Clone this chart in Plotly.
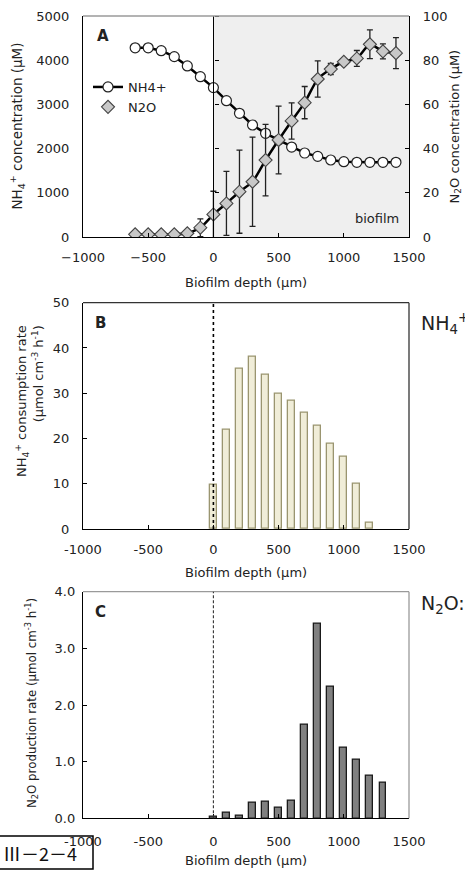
import plotly.graph_objects as go

# ---------------- data ----------------
depth_A = [-600, -500, -400, -300, -200, -100, 0, 100, 200, 300, 400, 500, 600, 700, 800, 900, 1000, 1100, 1200, 1300, 1400]
nh4_conc = [4280, 4280, 4215, 4080, 3870, 3627, 3380, 3084, 2798, 2534, 2346, 2195, 2035, 1900, 1825, 1742, 1704, 1690, 1690, 1690, 1690]
n2o_conc = [1.2, 1.2, 1.2, 1.2, 1.7, 4.2, 10.2, 15.2, 20.5, 25.0, 34.8, 43.9, 52.5, 60.8, 71.5, 76.0, 79.3, 80.8, 87.2, 84.0, 83.2]
n2o_err = [0, 0, 0, 0, 0.5, 4.0, 10.5, 14.5, 18.8, 20.2, 16.2, 15.3, 8.2, 7.3, 8.2, 2.5, 0.8, 3.6, 6.5, 3.4, 7.0]

depth_B = [0, 100, 200, 300, 400, 500, 600, 700, 800, 900, 1000, 1100, 1200]
nh4_rate = [9.7, 21.9, 35.4, 38.1, 34.1, 30.0, 28.4, 25.7, 22.9, 18.8, 15.9, 9.9, 1.5]

depth_C = [0, 100, 200, 300, 400, 500, 600, 700, 800, 900, 1000, 1100, 1200, 1300]
n2o_rate = [0.02, 0.10, 0.04, 0.27, 0.29, 0.18, 0.31, 1.65, 3.44, 2.32, 1.25, 1.03, 0.76, 0.63]

x_ticks = [-1000, -500, 0, 500, 1000, 1500]
x_ticktext_A = ["\u22121000", "\u2212500", "0", "500", "1000", "1500"]
x_ticktext_BC = ["-1000", "-500", "0", "500", "1000", "1500"]
yA_ticks = [0, 1000, 2000, 3000, 4000, 5000]
yA2_ticks = [0, 20, 40, 60, 80, 100]
yB_ticks = [0, 10, 20, 30, 40, 50]
yC_ticks = [0, 1, 2, 3, 4]
yC_ticktext = ["0.0", "1.0", "2.0", "3.0", "4.0"]

# ---------------- layout helpers ----------------
W, H = 465, 870
def px(x):
    return x / W
def py(y):
    return 1 - y / H

XD = [px(83), px(409)]
YA = [py(237), py(16)]
YB = [py(529), py(302.7)]
YC = [py(818.3), py(591.7)]
FONT = "DejaVu Sans, Verdana, sans-serif"
TXT = "#222222"
FS = 13

fig = go.Figure()

fig.add_trace(go.Scatter(x=depth_A, y=n2o_conc, xaxis="x", yaxis="y2", mode="lines",
                         line=dict(color="black", width=2.5, shape="spline", smoothing=0.6),
                         showlegend=False, hoverinfo="skip"))
fig.add_trace(go.Scatter(x=depth_A, y=nh4_conc, xaxis="x", yaxis="y", mode="lines+markers",
                         name="NH4+", line=dict(color="black", width=2.5),
                         marker=dict(symbol="circle", size=10, color="white",
                                     line=dict(color="#222222", width=1.2))))
fig.add_trace(go.Scatter(x=depth_A, y=n2o_conc, xaxis="x", yaxis="y2", mode="markers",
                         name="N2O",
                         error_y=dict(type="data", array=n2o_err, color="#222222", thickness=1.3, width=3),
                         marker=dict(symbol="diamond", size=10, color="#c8c8c8",
                                     line=dict(color="#444444", width=1.1))))
# empty trace so that the axis drawn at depth 0 (with its ticks) is rendered
fig.add_trace(go.Scatter(x=[], y=[], xaxis="x", yaxis="y3", showlegend=False, hoverinfo="skip"))

fig.add_trace(go.Bar(x=depth_B, y=nh4_rate, xaxis="x2", yaxis="y4", width=55,
                     marker=dict(color="#f0edd8", line=dict(color="#9a9570", width=1.3)),
                     showlegend=False))
fig.add_trace(go.Bar(x=depth_C, y=n2o_rate, xaxis="x3", yaxis="y5", width=52,
                     marker=dict(color="#808080", line=dict(color="#1a1a1a", width=1.3)),
                     showlegend=False))

tickfont = dict(family=FONT, size=FS, color=TXT)
common = dict(showgrid=False, zeroline=False, automargin=False, showline=True, linecolor="black",
              linewidth=1.3, tickcolor="black", tickfont=tickfont)

def xaxis(anchor, ticktext, standoff):
    return dict(domain=XD, range=[-1000, 1500], anchor=anchor, tickvals=x_ticks, ticktext=ticktext,
                ticks="inside", ticklen=4, ticklabelstandoff=standoff, **common)

fig.update_layout(
    template="none",
    width=W, height=H, margin=dict(l=0, r=0, t=0, b=0, pad=0, autoexpand=False),
    paper_bgcolor="white", plot_bgcolor="white",
    font=dict(family=FONT, size=FS, color=TXT),
    bargap=0,
    xaxis=xaxis("y", x_ticktext_A, 8),
    yaxis=dict(domain=YA, range=[0, 5000], anchor="x", tickvals=yA_ticks, ticks="",
               ticklabelstandoff=10, **common),
    yaxis2=dict(range=[0, 100], overlaying="y", side="right", anchor="x", tickvals=yA2_ticks,
                ticks="inside", ticklen=4, ticklabelstandoff=10, **common),
    yaxis3=dict(range=[0, 5000], overlaying="y", anchor="free",
                position=XD[0] + 0.4 * (XD[1] - XD[0]), tickvals=yA_ticks,
                ticks="outside", side="right", ticklen=4, showticklabels=False, **common),
    xaxis2=xaxis("y4", x_ticktext_BC, 8),
    yaxis4=dict(domain=YB, range=[0, 50], anchor="x2", tickvals=yB_ticks, ticks="inside", ticklen=4,
                ticklabelstandoff=10, **common),
    xaxis3=xaxis("y5", x_ticktext_BC, 11),
    yaxis5=dict(domain=YC, range=[0, 4], anchor="x3", tickvals=yC_ticks, ticktext=yC_ticktext,
                ticks="inside", ticklen=4, ticklabelstandoff=4, **common),
    legend=dict(x=px(88), y=py(72), xanchor="left", yanchor="top", bgcolor="rgba(0,0,0,0)",
                font=dict(family=FONT, size=FS, color=TXT), itemwidth=30, tracegroupgap=2),
)

shapes = []
shapes.append(dict(type="rect", xref="x", yref="y domain", x0=0, x1=1500, y0=0, y1=1,
                   fillcolor="#efefef", line=dict(width=0), layer="below"))
for xr, yr, col in [("x domain", "y domain", "#9a9a9a"), ("x2 domain", "y4 domain", "#333333"),
                    ("x3 domain", "y5 domain", "#9a9a9a")]:
    shapes.append(dict(type="line", xref=xr, yref=yr, x0=0, x1=1, y0=1, y1=1,
                       line=dict(color=col, width=1.3)))
shapes.append(dict(type="line", xref="x2 domain", yref="y4 domain", x0=1, x1=1, y0=0, y1=1,
                   line=dict(color="#333333", width=1.3)))
shapes.append(dict(type="line", xref="x3 domain", yref="y5 domain", x0=1, x1=1, y0=0, y1=1,
                   line=dict(color="#9a9a9a", width=1.3)))
shapes.append(dict(type="line", xref="x2", yref="y4 domain", x0=0, x1=0, y0=0, y1=1,
                   line=dict(color="black", width=1.6, dash="dot")))
shapes.append(dict(type="line", xref="x3", yref="y5 domain", x0=0, x1=0, y0=0, y1=1,
                   line=dict(color="#333333", width=1.1, dash="3px,2px")))
shapes.append(dict(type="rect", xref="paper", yref="paper", x0=px(-2), x1=px(93), y0=py(869),
                   y1=py(836), line=dict(color="black", width=1.5), fillcolor="rgba(0,0,0,0)"))
fig.update_layout(shapes=shapes)

ann = []
def a(text, x, y, size=FS, angle=0, xanchor="center", yanchor="middle", align="center", family=FONT,
      color=TXT, bold=False):
    if bold:
        text = "<b>" + text + "</b>"
    ann.append(dict(text=text, x=px(x), y=py(y), xref="paper", yref="paper", showarrow=False,
                    textangle=angle, xanchor=xanchor, yanchor=yanchor, align=align,
                    font=dict(family=family, size=size, color=color)))

a("A", 103, 36, size=15, bold=True)
a("B", 100, 323, size=15, bold=True)
a("C", 100, 612, size=15, bold=True)
a("biofilm", 377, 219)
a("NH<sub>4</sub><sup>+</sup> concentration (μM)", 17, 126.5, size=13.5, angle=-90)
a("N<sub>2</sub>O concentration (μM)", 455, 126.5, angle=-90)
a("Biofilm depth (μm)", 246, 283)
a("NH<sub>4</sub><sup>+</sup> consumption rate<br>(μmol cm<sup>-3</sup> h<sup>-1</sup>)", 29, 401,
  angle=-90, align="right")
a("Biofilm depth (μm)", 246, 572)
a("N<sub>2</sub>O production rate (μmol cm<sup>-3</sup> h<sup>-1</sup>)", 31, 703, size=11.8, angle=-90)
a("Biofilm depth (μm)", 246, 860)
a("NH<sub>4</sub><sup>+</sup>:", 419, 323, size=19, xanchor="left")
a("N<sub>2</sub>O:", 419, 604, size=19, xanchor="left")
a("Ⅲ－2－4", 40, 853, size=18, family="Noto Sans CJK JP", color="#111111")
fig.update_layout(annotations=ann)

fig.write_html("out.html", config={"displayModeBar": False},
               post_script="document.body.style.margin='0px';")
